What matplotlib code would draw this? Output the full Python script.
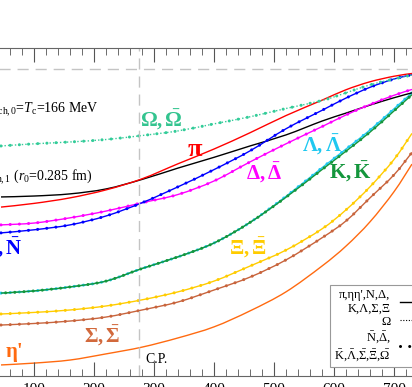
import numpy as np
import matplotlib
matplotlib.use("Agg")
from matplotlib import pyplot as plt
from matplotlib.lines import Line2D
from matplotlib.path import Path
from matplotlib.patches import PathPatch
from matplotlib.ticker import MultipleLocator

plt.rcParams['font.family'] = ['Liberation Serif', 'DejaVu Serif']
plt.rcParams['mathtext.fontset'] = 'custom'
plt.rcParams['mathtext.rm'] = 'Liberation Serif'
plt.rcParams['mathtext.it'] = 'Liberation Serif:italic'
plt.rcParams['mathtext.bf'] = 'Liberation Serif:bold'

# x values (MeV) and curves (in units of T_c)
mu = [45, 100, 160, 220, 280, 340, 400, 460, 520, 580, 620, 660, 700, 730]
omega = [0.749, 0.756, 0.762, 0.770, 0.783, 0.798, 0.821, 0.844, 0.871, 0.897, 0.922, 0.948, 0.967, 0.980]
pion = [0.550, 0.562, 0.580, 0.606, 0.642, 0.691, 0.739, 0.792, 0.848, 0.898, 0.932, 0.958, 0.976, 0.985]
tch1 = [0.583, 0.586, 0.593, 0.609, 0.640, 0.677, 0.712, 0.749, 0.785, 0.830, 0.856, 0.882, 0.906, 0.922]
nucleon = [0.466, 0.476, 0.492, 0.521, 0.564, 0.616, 0.672, 0.733, 0.805, 0.865, 0.905, 0.940, 0.967, 0.981]
delta = [0.492, 0.498, 0.515, 0.537, 0.564, 0.591, 0.635, 0.697, 0.756, 0.812, 0.850, 0.884, 0.914, 0.933]
lam = [0.270, 0.277, 0.290, 0.309, 0.350, 0.388, 0.433, 0.500, 0.585, 0.678, 0.739, 0.801, 0.870, 0.922]
kaon = [0.270, 0.277, 0.290, 0.309, 0.350, 0.388, 0.433, 0.500, 0.582, 0.672, 0.732, 0.794, 0.863, 0.916]
xi = [0.202, 0.207, 0.215, 0.228, 0.248, 0.274, 0.309, 0.358, 0.410, 0.479, 0.541, 0.616, 0.705, 0.790]
sigma = [0.166, 0.171, 0.179, 0.192, 0.215, 0.241, 0.280, 0.322, 0.378, 0.450, 0.505, 0.580, 0.655, 0.728]
etap = [0.036, 0.042, 0.052, 0.072, 0.094, 0.124, 0.160, 0.212, 0.274, 0.358, 0.423, 0.502, 0.600, 0.690]
t_c = 1.0
mu_cp = 275

fig = plt.figure(figsize=(4.12, 3.87), dpi=100)
ax = fig.add_axes([-0.0631, 0.0284, 1.0922, 0.8476])

ax.axhline(t_c, color='#c4c4c4', lw=1.0, ls=(0, (8, 5)))
ax.axvline(mu_cp, color='#c4c4c4', lw=1.0, ls=(0, (8, 5)))

def smooth(x, y):
    # catmull-rom style bezier through the read points
    p = np.column_stack([x, y]).astype(float)
    n = len(p)
    verts = [p[0]]
    codes = [Path.MOVETO]
    for i in range(n - 1):
        p0 = p[i - 1] if i > 0 else p[i]
        p3 = p[i + 2] if i + 2 < n else p[i + 1]
        verts += [p[i] + (p[i + 1] - p0) / 6, p[i + 1] - (p3 - p[i]) / 6, p[i + 1]]
        codes += [Path.CURVE4] * 3
    return Path(verts, codes)

DOT = 2.2
def curve(y, color, dots=True, ls='-', lw=1.0, phase=0):
    path = smooth(mu, y)
    ax.add_patch(PathPatch(path, fill=False, edgecolor=color, lw=lw, ls=ls))
    if dots:
        ax.add_patch(PathPatch(path, fill=False, edgecolor=color, lw=DOT,
                               ls=(phase, (0.01, 3.0)), capstyle='round'))

curve(etap, '#ff6a10', dots=False)
curve(sigma, '#c8643c')
curve(xi, '#ffcc00')
curve(lam, '#1ec8f0')
curve(kaon, '#14963c', phase=1.5)
curve(tch1, 'black', dots=False)
curve(delta, '#ff00ff')
curve(nucleon, '#0000ff')
curve(pion, '#ff0000', dots=False)
curve(omega, '#33cc99', ls=(0, (1, 1.5)))

lab = dict(fontsize=15, ha='center', va='center')
ax.text(313, 0.834, r'$\mathbf{\Omega,\bar{\Omega}}$', color='#33c48f', **lab)
ax.text(368, 0.739, 'π', color='#ff0000', fontweight='bold', fontsize=19, ha='center', va='center')
ax.text(483, 0.661, r'$\mathbf{\Delta,\bar{\Delta}}$', color='#ff00ff', **lab)
ax.text(580, 0.752, r'$\mathbf{\Lambda,\bar{\Lambda}}$', color='#1ec8f0', **lab)
ax.text(628, 0.664, r'$\mathbf{K,\bar{K}}$', color='#14963c', **lab)
ax.text(80, 0.417, r'$\mathbf{N,\bar{N}}$', color='#0000ff', fontsize=15, ha='right', va='center')
ax.text(457, 0.417, r'$\mathbf{\Xi,\bar{\Xi}}$', color='#ffcc00', **lab)
ax.text(213, 0.130, r'$\mathbf{\Sigma,\bar{\Sigma}}$', color='#d2693c', **lab)
ax.text(52, 0.078, "η'", color='#ff6a10', fontweight='bold', fontsize=15, ha='left', va='center')
ax.text(285, 0.055, 'C.P.', fontsize=10, ha='left', va='center')
ax.text(208, 0.866, r'$T_{\rm ch,0}$=$T_{\rm c}$=166 MeV', fontsize=10, ha='right', va='center')
ax.text(197, 0.648, r'$T_{\rm ch,1}$ ($r_0$=0.285 fm)', fontsize=10, ha='right', va='center')

ax.set_xlim(0, 750)
ax.set_ylim(0, 1.068)
ax.xaxis.set_major_locator(MultipleLocator(100))
ax.xaxis.set_minor_locator(MultipleLocator(20))
ax.set_yticks([])
ax.tick_params(axis='x', which='both', direction='in', top=True, color='#555555', labelsize=11, pad=5)
ax.tick_params(axis='x', which='major', length=10)
ax.tick_params(axis='x', which='minor', length=5)
for s in ax.spines.values():
    s.set_color('#666666')

handles = [Line2D([], [], color='black', lw=1.0),
           Line2D([], [], color='black', lw=0.8, ls=(0, (1, 1.5))),
           Line2D([], [], color='black', lw=DOT, ls=(0, (0.01, 3.0)), dash_capstyle='round')]
labels = ["π,ηη',N,Δ,\nK,Λ,Σ,Ξ",
          "Ω",
          r"$\bar{\rm N}$,$\bar{\Delta}$," + "\n" + r"$\bar{\rm K}$,$\bar{\Lambda}$,$\bar{\Sigma}$,$\bar{\Xi}$,$\bar{\Omega}$"]
leg = ax.legend(handles, labels, loc='upper left', bbox_to_anchor=(330 / 412, 1 - 285 / 387),
                bbox_transform=fig.transFigure, borderaxespad=0, fontsize=9, markerfirst=False,
                fancybox=False, handlelength=2.5, labelspacing=0.1, borderpad=0.3,
                framealpha=1)
leg.get_frame().set_edgecolor('#999999')
leg.get_frame().set_linewidth(0.8)
for t in leg.get_texts():
    t.set_multialignment('right')

fig.savefig('out.png', dpi=100)
